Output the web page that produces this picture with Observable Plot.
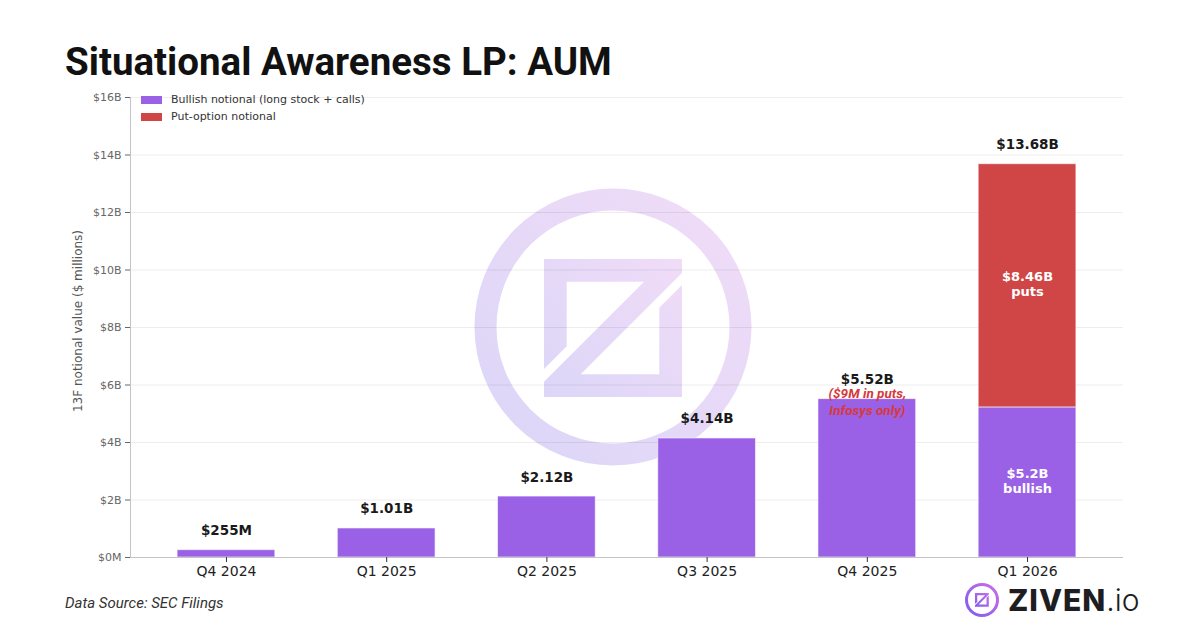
<!DOCTYPE html>
<html>
<head>
<meta charset="utf-8">
<script src="https://cdn.jsdelivr.net/npm/d3@7"></script>
<script src="https://cdn.jsdelivr.net/npm/@observablehq/plot@0.6"></script>
<style>
  html, body { margin: 0; padding: 0; background: #fff; }
  #root { position: relative; width: 1200px; height: 628px; overflow: hidden; background: #fff; }
  #title { position: absolute; left: 65px; top: 39px; font-family: Roboto, sans-serif; font-weight: 700; font-size: 38.5px; color: #111; letter-spacing: 0px; }
  #wm { position: absolute; left: 0; top: 0; z-index: 0; }
  #chart { position: absolute; left: 0; top: 70px; z-index: 1; }
  #legend { position: absolute; left: 141px; top: 91px; z-index: 2; font-family: "DejaVu Sans", sans-serif; font-size: 11px; color: #333; }
  #legend .row { display: flex; align-items: center; height: 17px; }
  #legend .sw { width: 21px; height: 8px; margin-right: 9px; }
  #ylabel { position: absolute; left: 78px; top: 321px; z-index: 2; transform: translate(-50%, -50%) rotate(-90deg); font-family: "DejaVu Sans", sans-serif; font-size: 12px; color: #555; white-space: nowrap; }
  #source { position: absolute; left: 65px; top: 594px; font-family: Roboto, sans-serif; font-style: italic; font-size: 15px; color: #333; }
  #logo { position: absolute; left: 964px; top: 582px; display: flex; align-items: center; }
  #logo .txt { font-family: Inter, Roboto, sans-serif; font-size: 30px; color: #1d1d22; margin-left: 8px; line-height: 36px; }
  #logo .b { font-weight: 800; letter-spacing: 1px; }
  #logo .l { font-weight: 300; }
</style>
</head>
<body>
<div id="root">
  <svg id="wm" width="1200" height="628">
    <defs>
      <linearGradient id="wg" x1="1" y1="0" x2="0" y2="1">
        <stop offset="0" stop-color="#f0dcf7"/>
        <stop offset="1" stop-color="#dcd6f8"/>
      </linearGradient>
      <linearGradient id="lg" x1="1" y1="0" x2="0" y2="1">
        <stop offset="0" stop-color="#c86ee6"/>
        <stop offset="1" stop-color="#7f5cf0"/>
      </linearGradient>
    </defs>
    <circle cx="613" cy="327" r="127.5" fill="none" stroke="url(#wg)" stroke-width="22"/>
    <g transform="translate(544,259)">
      <path fill="url(#wg)" d="M0,0 L138,0 L138,14 L36.7,115.3 L115.3,115.3 L115.3,48.7 L138,26 L138,138 L0,138 L0,122.7 L100,22.7 L22.7,22.7 L22.7,87.3 L0,110 Z"/>
    </g>
  </svg>
  <div id="title">Situational Awareness LP: AUM</div>
  <div id="chart"></div>
  <div id="legend"></div>
  <div id="ylabel">13F notional value ($ millions)</div>
  <div id="source">Data Source: SEC Filings</div>
  <div id="logo">
    <svg width="36" height="36" viewBox="0 0 36 36">
      <circle cx="18" cy="18" r="15.5" fill="none" stroke="url(#lg)" stroke-width="3"/>
      <g transform="translate(11,11) scale(0.1)">
        <path fill="url(#lg)" d="M0,0 L138,0 L138,14 L36.7,115.3 L115.3,115.3 L115.3,48.7 L138,26 L138,138 L0,138 L0,122.7 L100,22.7 L22.7,22.7 L22.7,87.3 L0,110 Z"/>
      </g>
    </svg>
    <div class="txt"><span class="b">ZIVEN</span><span class="l">.io</span></div>
  </div>
</div>
<script>
// ---- data (values in $ millions) ----
const quarters = ["Q4 2024", "Q1 2025", "Q2 2025", "Q3 2025", "Q4 2025", "Q1 2026"];
const bullish = [255, 1010, 2120, 4140, 5511, 5220];
const puts = [0, 0, 0, 0, 9, 8460];
const totalLabels = ["$255M", "$1.01B", "$2.12B", "$4.14B", "$5.52B", "$13.68B"];
const seriesNames = ["Bullish notional (long stock + calls)", "Put-option notional"];
const seriesColors = ["#9a60e6", "#d04545"];
const yTicks = [0, 2000, 4000, 6000, 8000, 10000, 12000, 14000, 16000];
const yTickLabels = ["$0M", "$2B", "$4B", "$6B", "$8B", "$10B", "$12B", "$14B", "$16B"];
const noteQuarter = "Q4 2025";
const noteText = "($9M in puts,\nInfosys only)";
const insideQuarter = "Q1 2026";
const putsInside = "$8.46B\nputs";
const bullishInside = "$5.2B\nbullish";

// ---- derived tables ----
const rows = [];
quarters.forEach((q, i) => {
  rows.push({quarter: q, type: seriesNames[0], value: bullish[i]});
  rows.push({quarter: q, type: seriesNames[1], value: puts[i]});
});
const totals = quarters.map((q, i) => ({quarter: q, total: bullish[i] + puts[i], label: totalLabels[i]}));
const qi = quarters.indexOf(insideQuarter);
const inside = [
  {quarter: insideQuarter, y: bullish[qi] + puts[qi] / 2, text: putsInside},
  {quarter: insideQuarter, y: bullish[qi] / 2, text: bullishInside}
];
const ni = quarters.indexOf(noteQuarter);
const note = [{quarter: noteQuarter, y: bullish[ni] + puts[ni], text: noteText}];

const chart = Plot.plot({
  width: 1200,
  height: 530,
  marginTop: 27,
  marginBottom: 43,
  marginLeft: 130,
  marginRight: 77,
  style: {fontFamily: "'DejaVu Sans', sans-serif", fontSize: "11px", background: "transparent", overflow: "visible"},
  x: {domain: quarters, paddingInner: 0.39, paddingOuter: 0.294, round: false, label: null},
  y: {domain: [0, 16000], label: null},
  color: {domain: seriesNames, range: seriesColors},
  marks: [
    Plot.gridY(yTicks, {stroke: "#000", strokeOpacity: 0.07}),
    Plot.barY(rows, {x: "quarter", y: "value", fill: "type", stroke: "#fff", strokeOpacity: 0.6, strokeWidth: 1}),
    Plot.ruleY([0], {stroke: "#c4c4c4"}),
    Plot.frame({anchor: "left", stroke: "#c4c4c4"}),
    Plot.axisY({ticks: yTicks, tickFormat: d => yTickLabels[yTicks.indexOf(d)], tickSize: 5, tickPadding: 4, stroke: "#666", fill: "#666", fontSize: 11, label: null}),
    Plot.axisX({tickSize: 5, tickPadding: 4, stroke: "#333", fill: "#222", fontSize: 14, label: null}),
    Plot.text(totals, {x: "quarter", y: "total", text: "label", lineAnchor: "bottom", dy: -15, fontSize: 13.5, fontWeight: "bold", fill: "#1a1a1a"}),
    Plot.text(inside, {x: "quarter", y: "y", text: "text", dy: -2, fontSize: 13, fontWeight: "bold", fill: "#fff", lineHeight: 1.15}),
    Plot.text(note, {x: "quarter", y: "y", text: "text", dy: 2, fontSize: 13.5, fontWeight: "bold", fontStyle: "italic", fontFamily: "Roboto, sans-serif", fill: "#d63a3a", lineHeight: 1.25})
  ]
});
document.getElementById("chart").appendChild(chart);

const legend = document.getElementById("legend");
seriesNames.forEach((n, i) => {
  const r = document.createElement("div");
  r.className = "row";
  r.innerHTML = `<div class="sw" style="background:${seriesColors[i]}"></div><div>${n}</div>`;
  legend.appendChild(r);
});
</script>
</body>
</html>
